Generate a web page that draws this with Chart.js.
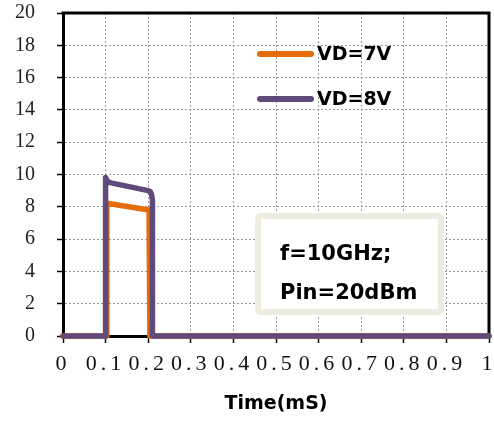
<!DOCTYPE html>
<html>
<head>
<meta charset="utf-8">
<script src="https://cdn.jsdelivr.net/npm/chart.js@4/dist/chart.umd.min.js"></script>
<style>
  html, body { margin: 0; padding: 0; background: #fff; }
  #wrap { width: 494px; height: 421px; }
</style>
</head>
<body>
<div id="wrap"><canvas id="c" width="494" height="421"></canvas></div>
<script>
// ---- data ----
const seriesLabels = ['VD=7V', 'VD=8V'];
const seriesColors = ['#E46C0A', '#604A7B'];

const timeVD7  = [0, 0.101, 0.103, 0.202, 0.204, 1];
const valueVD7 = [0, 0,     8.22,  7.80,  0,     0];

const timeVD8  = [0, 0.099, 0.100, 0.102, 0.105, 0.110, 0.200, 0.205, 0.208, 0.210, 0.210, 1];
const valueVD8 = [0, 0,     9.82,  9.68,  9.58,  9.50,  9.00,  8.93,  8.75,  8.40,  0,     0];

const xTickLabels = ['0', '0.1', '0.2', '0.3', '0.4', '0.5', '0.6', '0.7', '0.8', '0.9', '1'];
const yTickLabels = ['0', '2', '4', '6', '8', '10', '12', '14', '16', '18', '20'];
const xAxisTitle = 'Time(mS)';
const noteLines = ['f=10GHz;', 'Pin=20dBm'];

const toPoints = (xs, ys) => xs.map((x, i) => ({ x: x, y: ys[i] }));

const decor = {
  id: 'decor',
  beforeDatasetsDraw(chart) {
    const { ctx, chartArea: a } = chart;
    ctx.save();
    ctx.strokeStyle = '#000';
    ctx.lineWidth = 3;
    ctx.beginPath();
    ctx.moveTo(a.left - 1.5, a.top);
    ctx.lineTo(a.right, a.top);
    ctx.lineTo(a.right, a.bottom);
    ctx.stroke();
    ctx.restore();
  },
  afterDatasetsDraw(chart) {
    const ctx = chart.ctx;
    ctx.save();
    // annotation box
    ctx.fillStyle = '#fff';
    ctx.strokeStyle = '#EEECE1';
    ctx.lineWidth = 6;
    ctx.beginPath();
    ctx.roundRect(258, 216, 183, 96, 3);
    ctx.fill();
    ctx.stroke();
    ctx.fillStyle = '#000';
    ctx.font = 'bold 21px "DejaVu Sans"';
    ctx.textAlign = 'left';
    ctx.textBaseline = 'alphabetic';
    ctx.fillText(noteLines[0], 280, 260);
    ctx.fillText(noteLines[1], 280, 299);
    // legend
    chart.data.datasets.forEach((ds, i) => {
      const y = 54 + 45 * i;
      ctx.strokeStyle = ds.borderColor;
      ctx.lineWidth = 6;
      ctx.lineCap = 'round';
      ctx.beginPath();
      ctx.moveTo(260, y);
      ctx.lineTo(311, y);
      ctx.stroke();
      ctx.fillStyle = '#000';
      ctx.font = 'bold 19px "DejaVu Sans"';
      ctx.textBaseline = 'middle';
      ctx.fillText(ds.label, 317, y + 1);
    });
    ctx.restore();
    ctx.letterSpacing = '4px';
  },
  afterDraw(chart) {
    chart.ctx.letterSpacing = '0px';
  }
};

new Chart(document.getElementById('c'), {
  type: 'line',
  data: {
    datasets: [
      {
        label: seriesLabels[0],
        data: toPoints(timeVD7, valueVD7),
        borderColor: seriesColors[0],
        backgroundColor: seriesColors[0],
        borderWidth: 5.5,
        pointRadius: 0,
        tension: 0,
        clip: false,
        borderJoinStyle: 'round',
        borderCapStyle: 'round',
        order: 2
      },
      {
        label: seriesLabels[1],
        data: toPoints(timeVD8, valueVD8),
        borderColor: seriesColors[1],
        backgroundColor: seriesColors[1],
        borderWidth: 5.5,
        pointRadius: 0,
        tension: 0,
        clip: false,
        borderJoinStyle: 'round',
        borderCapStyle: 'round',
        order: 1
      }
    ]
  },
  options: {
    responsive: false,
    animation: false,
    events: [],
    layout: { padding: { top: 13, right: 5, left: 0, bottom: 0 } },
    plugins: { legend: { display: false }, tooltip: { enabled: false }, title: { display: false } },
    scales: {
      x: {
        type: 'linear',
        min: 0, max: 1,
        grid: { color: '#9a9a9a', lineWidth: 1, tickLength: 7, tickColor: '#000', tickWidth: 1.5 },
        border: { display: true, color: '#000', width: 3, dash: [2, 2] },
        ticks: {
          stepSize: 0.1,
          autoSkip: false,
          minRotation: 0, maxRotation: 0,
          padding: 8,
          z: 1,
          color: '#111',
          font: { family: '"Liberation Serif"', size: 22 },
          callback: (v, i) => xTickLabels[i]
        },
        title: {
          display: true,
          text: xAxisTitle,
          color: '#000',
          font: { family: '"DejaVu Sans"', size: 19, weight: 'bold' },
          padding: { top: 0, bottom: 6 }
        },
        afterFit: s => { s.height = 85; s.paddingLeft = 0; s.paddingRight = 0; }
      },
      y: {
        type: 'linear',
        min: 0, max: 20,
        grid: { color: '#9a9a9a', lineWidth: 1, tickLength: 6, tickColor: '#000', tickWidth: 1.5 },
        border: { display: true, color: '#000', width: 3, dash: [2, 2] },
        ticks: {
          stepSize: 2,
          padding: 22,
          color: '#222',
          font: { family: '"Liberation Serif"', size: 20 },
          callback: (v, i) => yTickLabels[i]
        },
        afterFit: s => { s.width = 63; s.paddingTop = 0; s.paddingBottom = 0; }
      }
    }
  },
  plugins: [decor]
});
</script>
</body>
</html>
